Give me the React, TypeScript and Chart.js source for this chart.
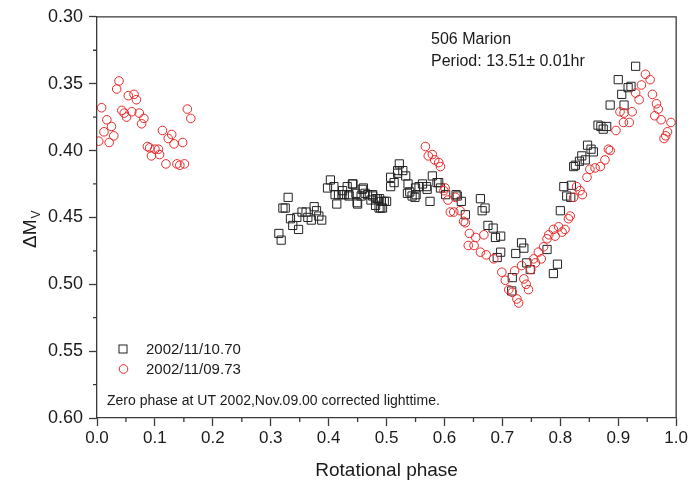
import React, { useEffect, useRef } from 'react';
import { Chart, registerables } from 'chart.js';
Chart.register(...registerables);

// 2002/11/10.70 (squares)
const squarePhase = [0.314,0.318,0.321,0.325,0.330,0.334,0.338,0.345,0.348,0.354,0.361,0.364,0.370,0.375,0.379,0.383,0.388,0.398,0.403,0.409,0.411,0.414,0.417,0.423,0.424,0.427,0.432,0.435,0.435,0.441,0.442,0.447,0.449,0.450,0.456,0.458,0.460,0.463,0.467,0.473,0.476,0.476,0.481,0.481,0.484,0.487,0.488,0.490,0.491,0.493,0.496,0.500,0.507,0.507,0.513,0.519,0.519,0.522,0.528,0.533,0.536,0.537,0.540,0.544,0.549,0.550,0.551,0.556,0.562,0.569,0.570,0.575,0.579,0.587,0.590,0.593,0.602,0.620,0.622,0.629,0.636,0.662,0.665,0.670,0.675,0.684,0.688,0.691,0.697,0.697,0.716,0.717,0.723,0.733,0.737,0.742,0.748,0.777,0.788,0.795,0.800,0.806,0.811,0.818,0.819,0.823,0.826,0.833,0.837,0.843,0.847,0.853,0.857,0.865,0.870,0.874,0.880,0.886,0.900,0.906,0.910,0.917,0.922,0.930];
const squareMag = [0.462,0.467,0.443,0.443,0.435,0.451,0.456,0.450,0.459,0.446,0.446,0.450,0.452,0.442,0.445,0.449,0.452,0.428,0.422,0.427,0.433,0.440,0.433,0.433,0.430,0.433,0.427,0.433,0.434,0.425,0.425,0.432,0.439,0.440,0.434,0.429,0.428,0.432,0.433,0.437,0.433,0.434,0.436,0.441,0.436,0.443,0.436,0.443,0.438,0.443,0.438,0.438,0.427,0.420,0.424,0.415,0.417,0.410,0.415,0.419,0.432,0.425,0.431,0.434,0.435,0.428,0.433,0.427,0.425,0.427,0.429,0.438,0.419,0.424,0.424,0.428,0.433,0.433,0.434,0.438,0.448,0.436,0.445,0.443,0.456,0.458,0.465,0.480,0.464,0.476,0.505,0.495,0.477,0.469,0.473,0.484,0.489,0.474,0.492,0.485,0.445,0.427,0.434,0.435,0.426,0.412,0.411,0.408,0.404,0.407,0.396,0.399,0.401,0.381,0.382,0.384,0.382,0.366,0.347,0.358,0.366,0.353,0.352,0.337];

// 2002/11/09.73 (circles)
const circlePhase = [0.003,0.008,0.012,0.017,0.021,0.025,0.029,0.034,0.038,0.043,0.047,0.051,0.054,0.060,0.064,0.068,0.073,0.077,0.081,0.087,0.091,0.094,0.100,0.106,0.108,0.113,0.119,0.123,0.129,0.133,0.138,0.143,0.148,0.151,0.156,0.162,
  0.567,0.572,0.579,0.583,0.590,0.593,0.599,0.601,0.606,0.610,0.616,0.619,0.627,0.633,0.636,0.641,0.643,0.651,0.654,0.662,0.668,0.672,0.685,0.699,0.705,0.711,0.717,0.721,0.725,0.728,0.733,0.737,0.741,0.745,0.749,0.754,0.757,0.762,0.767,0.771,0.777,0.780,0.788,0.791,0.797,0.803,0.808,0.814,0.817,0.823,0.828,0.834,0.838,0.846,0.851,0.860,0.869,0.877,0.883,0.886,0.896,0.903,0.909,0.910,0.919,0.924,0.930,0.936,0.940,0.947,0.955,0.959,0.963,0.966,0.969,0.974,0.979,0.982,0.985,0.991];
const circleMag = [0.393,0.368,0.386,0.377,0.394,0.382,0.389,0.354,0.348,0.370,0.372,0.375,0.359,0.371,0.358,0.362,0.372,0.380,0.376,0.397,0.398,0.404,0.399,0.399,0.403,0.385,0.410,0.391,0.388,0.395,0.410,0.411,0.394,0.410,0.369,0.376,
  0.397,0.404,0.403,0.407,0.409,0.412,0.430,0.428,0.437,0.446,0.446,0.435,0.445,0.453,0.454,0.471,0.462,0.471,0.465,0.476,0.463,0.478,0.481,0.491,0.497,0.504,0.506,0.490,0.511,0.514,0.486,0.496,0.500,0.504,0.489,0.481,0.484,0.476,0.481,0.472,0.466,0.463,0.459,0.464,0.457,0.461,0.459,0.451,0.449,0.435,0.427,0.430,0.433,0.420,0.414,0.413,0.412,0.407,0.399,0.400,0.385,0.371,0.379,0.372,0.379,0.371,0.357,0.362,0.351,0.343,0.347,0.358,0.374,0.365,0.369,0.377,0.391,0.389,0.386,0.379];

const xTickValues = [0, 0.1, 0.2, 0.3, 0.4, 0.5, 0.6, 0.7, 0.8, 0.9, 1.0];
const yTickValues = [0.30, 0.35, 0.40, 0.45, 0.50, 0.55, 0.60];
const xMinorTicks = [0.05, 0.15, 0.25, 0.35, 0.45, 0.55, 0.65, 0.75, 0.85, 0.95];
const yMinorTicks = [0.325, 0.375, 0.425, 0.475, 0.525, 0.575];

const legendSquares = '2002/11/10.70';
const legendCircles = '2002/11/09.73';
const titleLines = ['506 Marion', 'Period: 13.51\u00b1 0.01hr'];
const noteText = 'Zero phase at UT 2002,Nov.09.00 corrected lighttime.';
const xTitle = 'Rotational phase';

const FONT = '"Liberation Sans", Arial, Helvetica, sans-serif';
const AXIS = '#3a3a3a';
const RED = 'rgb(232,40,40)';
const BLACK = '#222222';

export default function App() {
  const ref = useRef<HTMLCanvasElement>(null);
  useEffect(() => {
    const canvas = ref.current!;
    const extras = {
      id: 'extras',
      afterDraw(chart: any) {
        const ctx = chart.ctx;
        const a = chart.chartArea;
        const xs = chart.scales.x;
        const ys = chart.scales.y;
        ctx.save();
        ctx.strokeStyle = AXIS;
        ctx.lineWidth = 1.3;
        ctx.beginPath();
        ctx.moveTo(a.left, a.top);
        ctx.lineTo(a.right, a.top);
        ctx.lineTo(a.right, a.bottom);
        ctx.stroke();
        ctx.beginPath();
        for (const v of xMinorTicks) {
          const px = xs.getPixelForValue(v);
          ctx.moveTo(px, a.bottom);
          ctx.lineTo(px, a.bottom + 4);
        }
        for (const v of yMinorTicks) {
          const py = ys.getPixelForValue(v);
          ctx.moveTo(a.left, py);
          ctx.lineTo(a.left - 4, py);
        }
        ctx.stroke();

        ctx.fillStyle = '#1a1a1a';
        ctx.textBaseline = 'alphabetic';
        ctx.textAlign = 'left';
        ctx.font = `16px ${FONT}`;
        ctx.fillText(titleLines[0], 431, 44);
        ctx.fillText(titleLines[1], 431, 66);

        ctx.font = `15px ${FONT}`;
        ctx.fillText(legendSquares, 146, 354);
        ctx.fillText(legendCircles, 146, 374);
        ctx.strokeStyle = BLACK;
        ctx.lineWidth = 1;
        ctx.strokeRect(119, 345, 8, 8);
        ctx.strokeStyle = RED;
        ctx.beginPath();
        ctx.arc(123.5, 369, 4.3, 0, Math.PI * 2);
        ctx.stroke();

        ctx.font = `14px ${FONT}`;
        ctx.fillText(noteText, 107, 405);

        ctx.font = `19px ${FONT}`;
        ctx.textAlign = 'center';
        ctx.fillText(xTitle, (a.left + a.right) / 2, 476);

        ctx.translate(36, 248);
        ctx.rotate(-Math.PI / 2);
        ctx.textAlign = 'left';
        ctx.font = `19px ${FONT}`;
        ctx.fillText('\u0394M', 0, 0);
        const w = ctx.measureText('\u0394M').width;
        ctx.font = `12px ${FONT}`;
        ctx.fillText('V', w + 1, 4);
        ctx.restore();
      },
    };
    const chart = new Chart(canvas, {
      type: 'scatter',
      data: {
        datasets: [
          {
            label: legendCircles,
            data: circlePhase.map((x, i) => ({ x, y: circleMag[i] })),
            pointStyle: 'circle',
            pointRadius: 4.3,
            pointBorderWidth: 1,
            pointBorderColor: RED,
            pointBackgroundColor: 'rgba(0,0,0,0)',
          },
          {
            label: legendSquares,
            data: squarePhase.map((x, i) => ({ x, y: squareMag[i] })),
            pointStyle: 'rect',
            pointRadius: 5.8,
            pointBorderWidth: 1,
            pointBorderColor: BLACK,
            pointBackgroundColor: 'rgba(0,0,0,0)',
          },
        ],
      },
      options: {
        animation: false,
        responsive: false,
        events: [],
        layout: { padding: { top: 15, right: 12, left: 0, bottom: 0 } },
        plugins: { legend: { display: false }, tooltip: { enabled: false } },
        scales: {
          x: {
            type: 'linear',
            min: 0,
            max: 1,
            afterFit: (s: any) => { s.height = 65; },
            afterBuildTicks: (s: any) => { s.ticks = xTickValues.map((v) => ({ value: v })); },
            ticks: {
              callback: (v: any) => Number(v).toFixed(1),
              font: { family: FONT, size: 17 },
              color: '#1a1a1a',
              padding: 2,
              maxRotation: 0,
            },
            grid: { drawOnChartArea: false, drawTicks: true, tickLength: 8, tickColor: AXIS, tickWidth: 1.3 },
            border: { display: true, color: AXIS, width: 1.3 },
          },
          y: {
            type: 'linear',
            reverse: true,
            min: 0.3,
            max: 0.6,
            afterFit: (s: any) => { s.width = 97; },
            afterBuildTicks: (s: any) => { s.ticks = yTickValues.map((v) => ({ value: v })); },
            ticks: {
              callback: (v: any) => Number(v).toFixed(2),
              font: { family: FONT, size: 18 },
              color: '#1a1a1a',
              padding: 6,
            },
            grid: { drawOnChartArea: false, drawTicks: true, tickLength: 8, tickColor: AXIS, tickWidth: 1.3 },
            border: { display: true, color: AXIS, width: 1.3 },
          },
        },
      },
      plugins: [extras],
    });
    return () => chart.destroy();
  }, []);
  return (
    <div style={{ position: 'fixed', left: 0, top: 0, width: 690, height: 483, background: '#fff' }}>
      <canvas ref={ref} width={690} height={483} style={{ width: 690, height: 483, display: 'block' }} />
    </div>
  );
}
